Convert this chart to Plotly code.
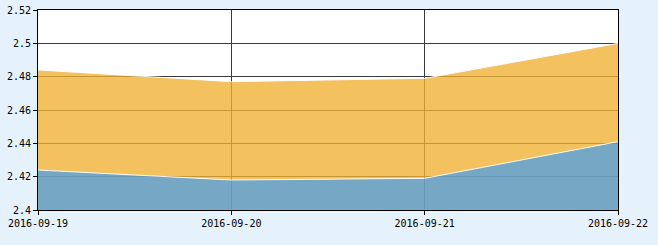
import plotly.graph_objects as go

dates = ["2016-09-19", "2016-09-20", "2016-09-21", "2016-09-22"]
low_vals = [2.424, 2.418, 2.419, 2.441]
high_vals = [2.484, 2.477, 2.479, 2.500]
y_ticks = [2.4, 2.42, 2.44, 2.46, 2.48, 2.5, 2.52]
y_tick_text = ["2.4", "2.42", "2.44", "2.46", "2.48", "2.5", "2.52"]

fig = go.Figure()
fig.add_trace(go.Scatter(
    x=dates, y=low_vals, mode="lines", fill="tozeroy",
    fillcolor="rgba(106,161,193,0.92)",
    line=dict(color="rgba(255,255,255,0.9)", width=1),
    hoverinfo="x+y", showlegend=False))
fig.add_trace(go.Scatter(
    x=dates, y=high_vals, mode="lines", fill="tonexty",
    fillcolor="rgba(241,175,50,0.78)",
    line=dict(color="rgba(255,255,255,0.9)", width=1),
    hoverinfo="x+y", showlegend=False))

font = dict(family="DejaVu Sans Mono", size=10, color="#000")
fig.update_layout(
    width=658, height=245,
    margin=dict(l=38, r=40, t=10, b=35, autoexpand=False),
    paper_bgcolor="#E6F2FB", plot_bgcolor="#FFFFFF",
    font=font,
    xaxis=dict(
        type="date", range=[dates[0], dates[-1]],
        tickvals=dates, ticktext=dates, automargin=False,
        showgrid=True, gridcolor="#3a3a3a", gridwidth=1,
        showline=True, linecolor="#000", linewidth=1, mirror=True,
        ticks="outside", ticklen=4, tickcolor="#000",
        zeroline=False, tickfont=font,
    ),
    yaxis=dict(
        range=[2.4, 2.52], automargin=False,
        tickvals=y_ticks, ticktext=y_tick_text,
        showgrid=True, gridcolor="#3a3a3a", gridwidth=1,
        showline=True, linecolor="#000", linewidth=1, mirror=True,
        ticks="outside", ticklen=4, tickcolor="#000",
        zeroline=False, tickfont=font,
    ),
)

fig.write_html("out.html")
